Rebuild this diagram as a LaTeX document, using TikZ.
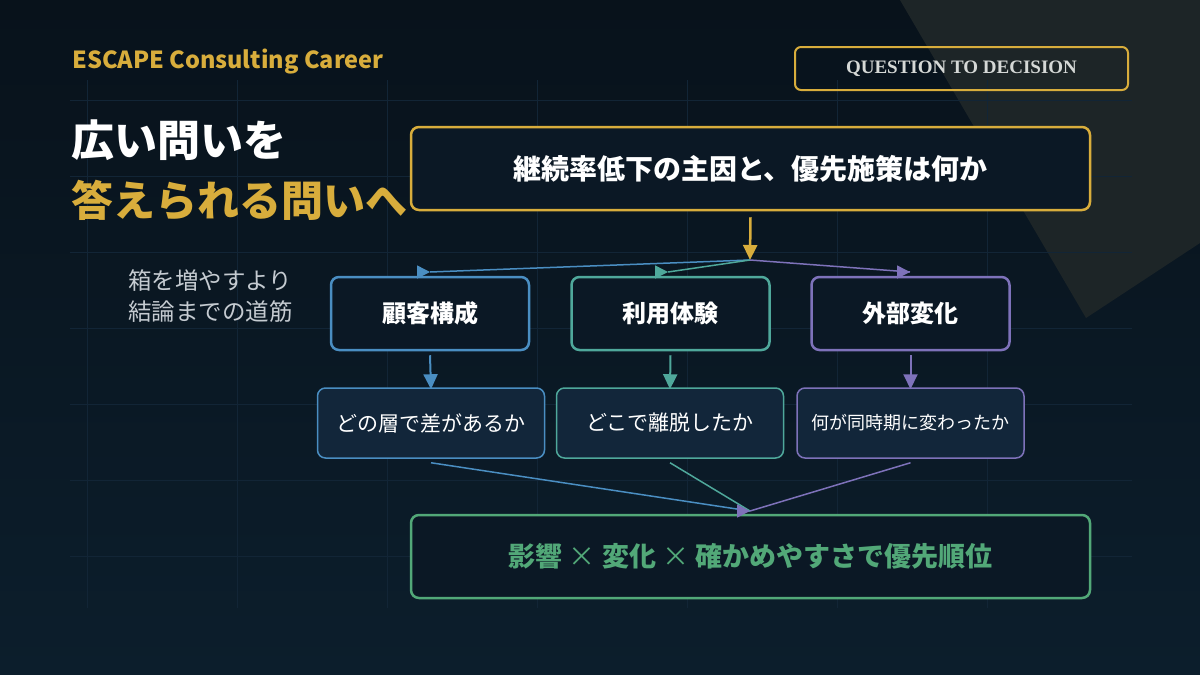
\documentclass[tikz,border=0pt]{standalone}
\usepackage{fontspec}
\setmainfont{Noto Sans CJK JP}
\newfontfamily\badgefont{Liberation Serif}
\usetikzlibrary{arrows.meta, positioning, calc}
\definecolor{bgTop}     {HTML}{08121B}
\definecolor{bgBot}     {HTML}{0C1E2C}
\definecolor{gridLine}  {HTML}{122536}
\definecolor{glow}      {HTML}{1D2527}
\definecolor{gold}      {HTML}{D8AD3C}
\definecolor{boxFill}   {HTML}{0B1825}
\definecolor{subFill}   {HTML}{12263A}
\definecolor{custBlue}  {HTML}{4A8EC2}
\definecolor{useTeal}   {HTML}{4FA89B}
\definecolor{extPurple} {HTML}{7E72BA}
\definecolor{prioGreen} {HTML}{52A878}
\definecolor{mutedtext} {HTML}{C5CBD1}
\definecolor{badgeText} {HTML}{D5D8D6}

\begin{document}
\begin{tikzpicture}[x=1pt, y=-1pt,
    every node/.style={inner sep=0pt},
    qbox/.style={draw=#1, line width=2.5pt, rounded corners=8pt, fill=boxFill,
                 minimum width=679pt, minimum height=83pt},
    factor/.style={draw=#1, line width=2.5pt, rounded corners=8pt, fill=boxFill,
                   minimum width=198pt, minimum height=73pt, text=white,
                   font=\bfseries\fontsize{24}{28}\selectfont},
    probe/.style={draw=#1, line width=1.5pt, rounded corners=8pt, fill=subFill,
                  minimum width=227pt, minimum height=70pt, text=white,
                  font=\fontsize{21}{25}\selectfont},
    lab/.style={anchor=west, text=mutedtext, font=\fontsize{23.5}{28}\selectfont},
    arr/.style={#1, line width=2pt, -{Triangle[length=15pt, width=14pt]}},
    link/.style={#1, line width=1.5pt},
    headR/.style={#1, line width=1.5pt, -{Triangle[length=13pt, width=13pt]}}
]
\useasboundingbox (0,0) rectangle (1200,675);
% Background and grid
\shade[top color=bgTop, bottom color=bgBot] (0,0) rectangle (1200,675);
\fill[glow] (900,0) -- (1200,0) -- (1200,243) -- (1086,318) -- cycle;
\foreach \x in {87,237,...,987} {
    \draw[gridLine, line width=1pt] (\x,80) -- (\x,608);
}
\foreach \y in {100,176,...,556} {
    \draw[gridLine, line width=1pt] (70,\y) -- (1132,\y);
}
% Heading
\node[anchor=west, text=gold, font=\bfseries\fontsize{23.5}{28}\selectfont] (brand) at (72,62) {ESCAPE Consulting Career};
\node[draw=gold, line width=2pt, rounded corners=6pt, minimum width=333pt, minimum height=43pt,
      text=badgeText, font=\badgefont\bfseries\fontsize{19}{22}\selectfont] (badge) at (961.5,68.5) {QUESTION TO DECISION};
\node[anchor=west, text=white, font=\bfseries\fontsize{43}{50}\selectfont] (title1) at (71,140) {広い問いを};
\node[anchor=west, text=gold, font=\bfseries\fontsize{42}{50}\selectfont] (title2) at (71,200) {答えられる問いへ};
\node[lab] (note1) at (128,281) {箱を増やすより};
\node[lab] (note2) at (128,312) {結論までの道筋};
% Question
\node[qbox=gold, text=white, font=\bfseries\fontsize{28}{32}\selectfont] (question) at (750.5,168.5) {継続率低下の主因と、優先施策は何か};
% Factors
\node[factor=custBlue]  (cust) at (430,313.5) {顧客構成};
\node[factor=useTeal]   (use)  at (670.5,313.5) {利用体験};
\node[factor=extPurple] (ext)  at (910.5,313.5) {外部変化};
% Probing questions
\node[probe=custBlue]  (custQ) at (431,423) {どの層で差があるか};
\node[probe=useTeal]   (useQ)  at (670,423) {どこで離脱したか};
\node[probe=extPurple, font=\fontsize{18}{22}\selectfont] (extQ) at (910.5,423) {何が同時期に変わったか};
% Priority
\node[qbox=prioGreen, text=prioGreen, font=\bfseries\fontsize{27}{32}\selectfont] (prio) at (750.5,556.5) {影響 {\mdseries ×} 変化 {\mdseries ×} 確かめやすさで優先順位};
% Connectors
\coordinate (split) at (750,260);
\coordinate (custIn) at (430,272);
\coordinate (useIn) at (668,272);
\coordinate (extIn) at (910,272);
\coordinate (merge) at (750,511);
\draw[arr=gold, line width=2.5pt] ([yshift=-6pt]question.south) -- (split);
\draw[link=custBlue] (split) -- (custIn);
\draw[link=useTeal] (split) -- (useIn);
\draw[link=extPurple] (split) -- (extIn);
\draw[headR=custBlue] ([xshift=-12pt]custIn) -- (custIn);
\draw[headR=useTeal] ([xshift=-12pt]useIn) -- (useIn);
\draw[headR=extPurple] ([xshift=-12pt]extIn) -- (extIn);
\foreach \f/\c in {cust/custBlue, use/useTeal, ext/extPurple} {
    \draw[arr=\c] ([yshift=-4pt]\f.south) -- ([yshift=-2pt]\f Q.north);
}
\draw[link=custBlue] ([yshift=-4pt]custQ.south) -- (merge);
\draw[link=useTeal] ([yshift=-4pt]useQ.south) -- (merge);
\draw[link=extPurple] ([yshift=-4pt]extQ.south) -- (merge);
\draw[headR=extPurple] ([xshift=-12pt]merge) -- (merge);
\end{tikzpicture}
\end{document}
